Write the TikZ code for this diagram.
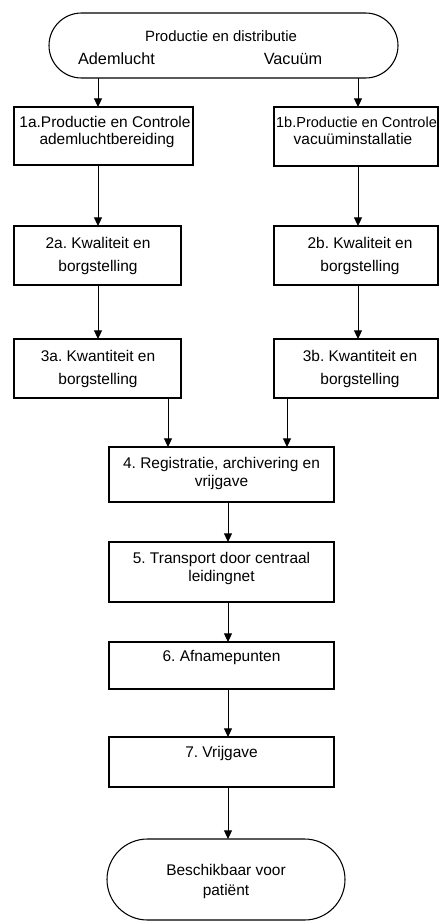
\documentclass[tikz,border=0pt]{standalone}
\usepackage{fontspec}
\setmainfont{Liberation Sans}
\usetikzlibrary{arrows.meta,shapes.misc}
\frenchspacing
\begin{document}
\begin{tikzpicture}[x=0.75pt,y=-0.75pt,
  box/.style={draw, line width=1.1pt, rectangle, inner sep=0pt, outer sep=0pt},
  term/.style={draw, line width=0.8pt, rounded rectangle, inner sep=0pt, outer sep=0pt},
  lbl/.style={anchor=base, inner sep=0pt, font=\fontsize{11.6}{13}\selectfont},
  arr/.style={line width=0.75pt, -{Triangle[length=6.5pt,width=6pt]}}]
\useasboundingbox (0,0) rectangle (439,921);
% x positions of connectors
\coordinate (xa) at (98,0);
\coordinate (xb) at (358,0);
\coordinate (xa2) at (168,0);
\coordinate (xb2) at (287,0);
\coordinate (xc) at (228,0);
% start terminator
\node[term, minimum width=261.75pt, minimum height=48.75pt] (top) at (223.5,45.5) {};
\node[lbl, font=\fontsize{11.2}{13}\selectfont] (ttl) at (221,41) {Productie en distributie};
\node[lbl, font=\fontsize{12.2}{14}\selectfont] (ad) at (116.5,64.3) {Ademlucht};
\node[lbl, font=\fontsize{12.2}{14}\selectfont] (va) at (293,64.3) {Vacuüm};
% column a
\node[box, minimum width=134.25pt, minimum height=43.5pt] (b1a) at (103.5,136) {};
\node[lbl] (t1a1) at (105,127) {1a.Productie en Controle};
\node[lbl] (t1a2) at (107,144.5) {ademluchtbereiding};
\node[box, minimum width=125.25pt, minimum height=44.25pt] (b2a) at (97.5,255.5) {};
\node[lbl] (t2a1) at (98,248) {2a. Kwaliteit en};
\node[lbl] (t2a2) at (98,271) {borgstelling};
\node[box, minimum width=125.25pt, minimum height=44.25pt] (b3a) at (97.5,368.5) {};
\node[lbl] (t3a1) at (98,361.5) {3a. Kwantiteit en};
\node[lbl] (t3a2) at (98,384) {borgstelling};
% column b
\node[box, minimum width=123pt, minimum height=44.25pt] (b1b) at (356,136.5) {};
\node[lbl, font=\fontsize{10.9}{13}\selectfont] (t1b1) at (356.5,127) {1b.Productie en Controle};
\node[lbl] (t1b2) at (353,144.5) {vacuüminstallatie};
\node[box, minimum width=123pt, minimum height=44.25pt] (b2b) at (356,255.5) {};
\node[lbl] (t2b1) at (360,248) {2b. Kwaliteit en};
\node[lbl] (t2b2) at (360,271) {borgstelling};
\node[box, minimum width=123pt, minimum height=44.25pt] (b3b) at (356,368.5) {};
\node[lbl] (t3b1) at (360,361.5) {3b. Kwantiteit en};
\node[lbl] (t3b2) at (360,384) {borgstelling};
% main column
\node[box, minimum width=168.75pt, minimum height=41.25pt] (b4) at (221.5,474.5) {};
\node[lbl] (t41) at (221.5,468) {4. Registratie, archivering en};
\node[lbl] (t42) at (221.5,486.5) {vrijgave};
\node[box, minimum width=168.75pt, minimum height=45pt] (b5) at (221.5,572) {};
\node[lbl] (t51) at (221.5,563.5) {5. Transport door centraal};
\node[lbl] (t52) at (221.5,581) {leidingnet};
\node[box, minimum width=168.75pt, minimum height=35.25pt] (b6) at (221.5,665.5) {};
\node[lbl] (t6) at (221.5,661) {6. Afnamepunten};
\node[box, minimum width=168.75pt, minimum height=37.5pt] (b7) at (221.5,762) {};
\node[lbl] (t7) at (221.5,757) {7. Vrijgave};
% end terminator
\node[term, minimum width=178.5pt, minimum height=60.75pt] (end) at (226,879.5) {};
\node[lbl] (te1) at (226,875) {Beschikbaar voor};
\node[lbl] (te2) at (226,895) {patiënt};
% connectors
\draw[arr] (top.south -| xa) -- (b1a.north -| xa);
\draw[arr] (top.south -| xb) -- (b1b.north -| xb);
\draw[arr] (b1a.south -| xa) -- (b2a.north -| xa);
\draw[arr] (b1b.south -| xb) -- (b2b.north -| xb);
\draw[arr] (b2a.south -| xa) -- (b3a.north -| xa);
\draw[arr] (b2b.south -| xb) -- (b3b.north -| xb);
\draw[arr] (b3a.south -| xa2) -- (b4.north -| xa2);
\draw[arr] (b3b.south -| xb2) -- (b4.north -| xb2);
\draw[arr] (b4.south -| xc) -- (b5.north -| xc);
\draw[arr] (b5.south -| xc) -- (b6.north -| xc);
\draw[arr] (b6.south -| xc) -- (b7.north -| xc);
\draw[arr] (b7.south -| xc) -- (end.north -| xc);
\end{tikzpicture}
\end{document}
